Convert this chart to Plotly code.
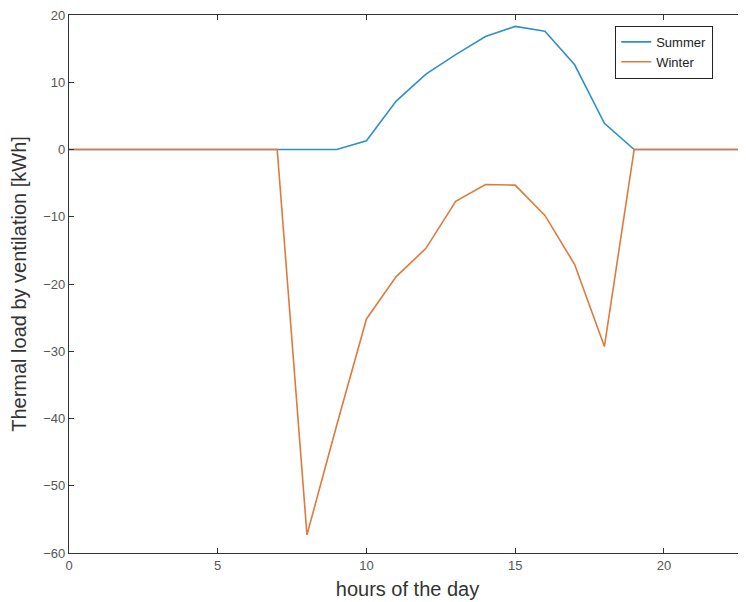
import plotly.graph_objects as go

hours = list(range(0, 24))
summer = [0, 0, 0, 0, 0, 0, 0, 0, 0, 0, 1.3, 7.2, 11.2, 14.1, 16.8, 18.3, 17.6, 12.6, 3.9, 0, 0, 0, 0, 0]
winter = [0, 0, 0, 0, 0, 0, 0, 0, -57.3, -41, -25.2, -18.9, -14.7, -7.7, -5.2, -5.3, -9.8, -17.1, -29.3, 0, 0, 0, 0, 0]

FONT = "Liberation Sans, Arial, Helvetica, sans-serif"

fig = go.Figure()
fig.add_trace(go.Scatter(x=hours, y=summer, mode="lines", name="Summer",
                         line=dict(color="#2f8fca", width=1.6)))
fig.add_trace(go.Scatter(x=hours, y=winter, mode="lines", name="Winter",
                         line=dict(color="#e07a3a", width=1.6)))

axis_common = dict(showgrid=False, zeroline=False, showline=True, linecolor="#333333",
                   linewidth=1.2, ticks="inside", ticklen=5, tickwidth=1.2, tickcolor="#333333",
                   automargin=False, ticklabeloverflow="allow",
                   tickfont=dict(family=FONT, size=13, color="#555555"))

fig.update_xaxes(range=[0, 22.76], tickvals=[0, 5, 10, 15, 20], mirror="ticks",
                 title=dict(text="hours of the day", font=dict(family=FONT, size=20, color="#333333"),
                            standoff=10),
                 **axis_common)
fig.update_yaxes(range=[-60, 20], tickvals=[-60, -50, -40, -30, -20, -10, 0, 10, 20],
                 title=dict(text="Thermal load by ventilation [kWh]",
                            font=dict(family=FONT, size=20, color="#333333"), standoff=11),
                 **axis_common)

fig.update_layout(
    width=738, height=594,
    margin=dict(l=61, r=0, t=7, b=49),
    plot_bgcolor="white", paper_bgcolor="white",
    font=dict(family=FONT),
    legend=dict(x=0.8065, y=0.98, xanchor="left", yanchor="top",
                bgcolor="white", bordercolor="#222222", borderwidth=1.2,
                font=dict(family=FONT, size=13, color="#222222"),
                tracegroupgap=0),
)

fig.write_html("out.html")
